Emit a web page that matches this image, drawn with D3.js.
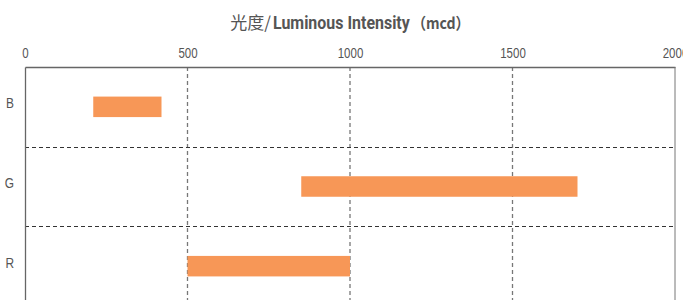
<!DOCTYPE html>
<html><head><meta charset="utf-8">
<script src="https://cdn.jsdelivr.net/npm/d3@7"></script>
<style>
body{margin:0;background:#fff;}
svg{display:block;font-family:"Roboto","Noto Sans CJK SC",sans-serif;}
</style></head>
<body><svg id="c" width="683" height="300"></svg>
<script>
const categories = ["B","G","R"];
const startValues = [210, 850, 500];
const endValues = [420, 1700, 1000];
const xTicks = [0, 500, 1000, 1500, 2000];
const titleParts = ["光度/", "Luminous Intensity", "（mcd）"];

const svg = d3.select("#c");
const m = {left:25, right:8, top:67, bottom:-6};
const W = 683, H = 300;
const x = d3.scaleLinear().domain([0,2000]).range([m.left, W - m.right]);
const y = d3.scaleBand().domain(categories).range([m.top, H - m.bottom]).paddingInner(0).paddingOuter(0);

function condense(sel, f){
  sel.each(function(){
    const len = this.getComputedTextLength();
    d3.select(this).attr("textLength", len*f).attr("lengthAdjust","spacingAndGlyphs");
  });
}

// title: pieces laid out side by side, each horizontally scaled via a group transform
const titleStyles = [
  {family:"'Noto Sans CJK SC'", weight:400, size:17, f:1.0},
  {family:"Roboto", weight:700, size:19, f:0.84},
  {family:"'Noto Sans CJK SC'", weight:700, size:16, f:0.88}
];
const gap = 2;
const tg = svg.append("g");
const pieces = titleParts.map((s,i) => {
  const st = titleStyles[i];
  const g = tg.append("g");
  const el = g.append("text").text(s).attr("x",0).attr("y", 0).attr("fill","#555")
    .style("font-family", st.family).style("font-weight", st.weight).style("font-size", st.size+"px");
  const w = el.node().getComputedTextLength()*st.f;
  return {g, w, f:st.f};
});
const total = d3.sum(pieces, p => p.w) + gap*(pieces.length-1);
let cx = (m.left + W - m.right)/2 - total/2;
pieces.forEach(p => { p.g.attr("transform", `translate(${cx},29) scale(${p.f},1)`); cx += p.w + gap; });

// vertical grid
svg.append("g").selectAll("line").data(xTicks.filter(d => d > 0 && d < 2000)).join("line")
  .attr("x1", d => x(d)).attr("x2", d => x(d)).attr("y1", m.top).attr("y2", H)
  .attr("stroke","#777").attr("stroke-width",1.3).attr("stroke-dasharray","4,3");

// horizontal band separators
svg.append("g").selectAll("line").data(categories.slice(1)).join("line")
  .attr("x1", m.left).attr("x2", W - m.right).attr("y1", d => Math.round(y(d))+0.5).attr("y2", d => Math.round(y(d))+0.5)
  .attr("stroke","#333").attr("stroke-width",1).attr("stroke-dasharray","4,3");

// bars
const bh = 20.5;
svg.append("g").selectAll("rect").data(categories).join("rect")
  .attr("x", (d,i) => x(startValues[i]))
  .attr("width", (d,i) => x(endValues[i]) - x(startValues[i]))
  .attr("y", d => y(d) + y.bandwidth()/2 - bh/2)
  .attr("height", bh)
  .attr("fill","#f79757");

// top axis
const xAxis = svg.append("g").attr("transform",`translate(0,${m.top})`)
  .call(d3.axisTop(x).tickValues(xTicks).tickFormat(d3.format("d")).tickSize(0).tickPadding(9));
xAxis.select(".domain").attr("stroke","#666").attr("stroke-width",1.3);
xAxis.selectAll("text").attr("fill","#555").style("font-size","14px");
condense(xAxis.selectAll("text"), 0.82);

// left axis
const yAxis = svg.append("g").attr("transform",`translate(${m.left},0)`)
  .call(d3.axisLeft(y).tickSize(0).tickPadding(11));
yAxis.select(".domain").attr("stroke","#666").attr("stroke-width",1.3);
yAxis.selectAll("text").attr("fill","#555").style("font-size","14px").attr("dy","0.1em");
condense(yAxis.selectAll("text"), 0.85);

// right border
svg.append("line").attr("x1", W - m.right).attr("x2", W - m.right).attr("y1", m.top).attr("y2", H)
  .attr("stroke","#777").attr("stroke-width",1);
</script></body></html>
